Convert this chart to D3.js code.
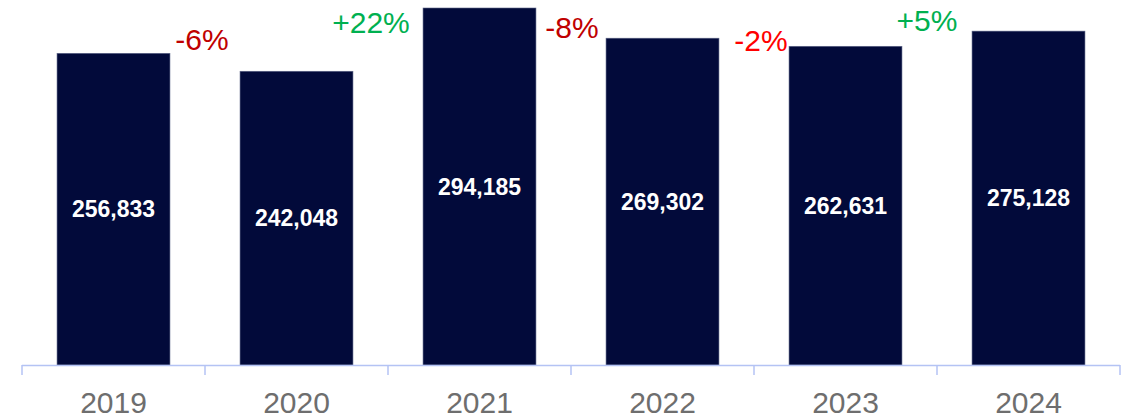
<!DOCTYPE html>
<html>
<head>
<meta charset="utf-8">
<script src="https://cdn.jsdelivr.net/npm/d3@7"></script>
<style>
  body { margin: 0; background: #fff; }
  text { font-family: "Liberation Sans", Arial, sans-serif; }
</style>
</head>
<body>
<svg id="chart" width="1122" height="419"></svg>
<script>
var years = ["2019", "2020", "2021", "2022", "2023", "2024"],
    values = [256833, 242048, 294185, 269302, 262631, 275128],
    changes = ["-6%", "+22%", "-8%", "-2%", "+5%"],
    changeColors = ["#C00000", "#00B050", "#C00000", "#FF0000", "#00B050"];

var svg = d3.select("#chart"),
    left = 22, right = 1120, baseY = 365, topY = 8;

// label nudges relative to the boundary between two bars
var nudgeX = [-3, -17, 1, 7, -10],
    baseLine = [50, 33, 38, 51, 31];

var x = d3.scaleBand().domain(years).range([left, right]).padding(0),
    xb = d3.scaleBand().domain(years).range([left, right])
      .paddingInner(0.383).paddingOuter(0.1915),
    y = d3.scaleLinear().domain([0, d3.max(values)]).range([baseY, topY]);

var data = years.map(function(d, i) { return { year: d, value: values[i] }; });

// bars
svg.selectAll(".bar")
    .data(data)
  .enter().append("rect")
    .attr("class", "bar")
    .attr("x", function(d) { return xb(d.year); })
    .attr("width", xb.bandwidth())
    .attr("y", function(d) { return y(d.value); })
    .attr("height", function(d) { return baseY - y(d.value); })
    .attr("fill", "#020A3A")
    .attr("stroke", "#5d6588")
    .attr("stroke-width", 0.6);

// value labels
svg.selectAll(".val")
    .data(data)
  .enter().append("text")
    .attr("class", "val")
    .attr("x", function(d) { return xb(d.year) + xb.bandwidth() / 2; })
    .attr("y", function(d) { return (y(d.value) + baseY) / 2; })
    .attr("dy", "0.35em")
    .attr("text-anchor", "middle")
    .attr("fill", "#fff")
    .attr("font-weight", "bold")
    .attr("font-size", 23)
    .text(function(d) { return d3.format(",")(d.value); });

// axis line and ticks at category boundaries
var axis = svg.append("g").attr("stroke", "#B4C3F4").attr("stroke-width", 1.5);
axis.append("line")
    .attr("x1", left).attr("x2", right)
    .attr("y1", baseY + 0.5).attr("y2", baseY + 0.5);
var bounds = years.map(function(d) { return x(d); }).concat([right]);
axis.selectAll(".tick")
    .data(bounds)
  .enter().append("line")
    .attr("x1", function(d) { return d; }).attr("x2", function(d) { return d; })
    .attr("y1", baseY).attr("y2", baseY + 10);

// year labels
svg.selectAll(".year")
    .data(years)
  .enter().append("text")
    .attr("class", "year")
    .attr("x", function(d) { return x(d) + x.bandwidth() / 2; })
    .attr("y", 413)
    .attr("text-anchor", "middle")
    .attr("fill", "#6E6E6E")
    .attr("font-size", 30)
    .text(function(d) { return d; });

// change labels between bars
svg.selectAll(".chg")
    .data(changes)
  .enter().append("text")
    .attr("class", "chg")
    .attr("x", function(d, i) { return x(years[i + 1]) + nudgeX[i]; })
    .attr("y", function(d, i) { return baseLine[i]; })
    .attr("text-anchor", "middle")
    .attr("fill", function(d, i) { return changeColors[i]; })
    .attr("font-size", 30)
    .text(function(d) { return d; });
</script>
</body>
</html>
